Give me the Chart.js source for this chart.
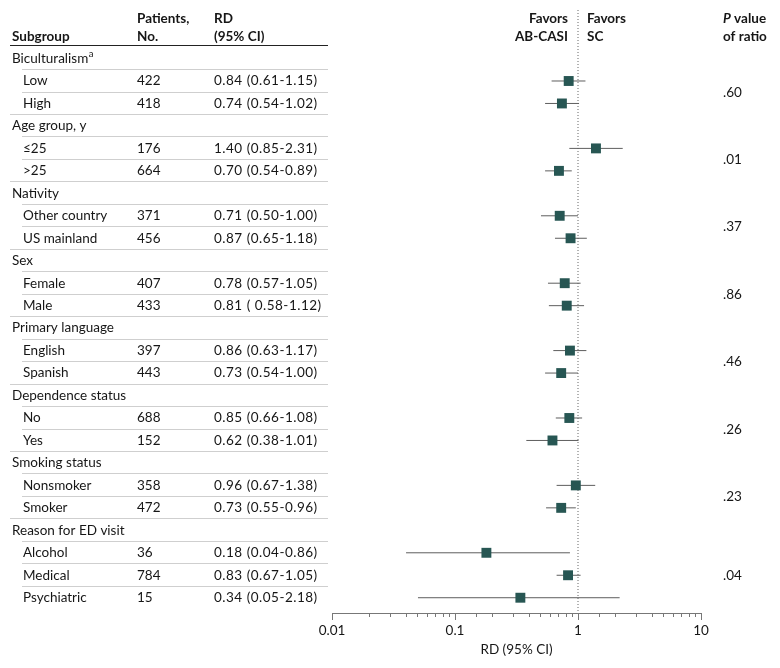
<!DOCTYPE html>
<html>
<head>
<meta charset="utf-8">
<script src="https://cdn.jsdelivr.net/npm/chart.js@4.4.1/dist/chart.umd.min.js"></script>
<style>
html,body{margin:0;padding:0;background:#fff;}
#wrap{width:780px;height:668px;position:relative;}
</style>
</head>
<body>
<div id="wrap"><canvas id="c" width="780" height="668"></canvas></div>
<script>
// ---- data ----
const groups = ['Biculturalism', 'Age group, y', 'Nativity', 'Sex', 'Primary language', 'Dependence status', 'Smoking status', 'Reason for ED visit'];
const groupNotes = ['a', '', '', '', '', '', '', ''];
const subgroups = [['Low', 'High'], ['≤25', '>25'], ['Other country', 'US mainland'], ['Female', 'Male'], ['English', 'Spanish'], ['No', 'Yes'], ['Nonsmoker', 'Smoker'], ['Alcohol', 'Medical', 'Psychiatric']];
const patients = [[422, 418], [176, 664], [371, 456], [407, 433], [397, 443], [688, 152], [358, 472], [36, 784, 15]];
const rd = [[0.84, 0.74], [1.40, 0.70], [0.71, 0.87], [0.78, 0.81], [0.86, 0.73], [0.85, 0.62], [0.96, 0.73], [0.18, 0.83, 0.34]];
const ciLow = [[0.61, 0.54], [0.85, 0.54], [0.50, 0.65], [0.57, 0.58], [0.63, 0.54], [0.66, 0.38], [0.67, 0.55], [0.04, 0.67, 0.05]];
const ciHigh = [[1.15, 1.02], [2.31, 0.89], [1.00, 1.18], [1.05, 1.12], [1.17, 1.00], [1.08, 1.01], [1.38, 0.96], [0.86, 1.05, 2.18]];
const ciLabels = [['0.84 (0.61-1.15)', '0.74 (0.54-1.02)'], ['1.40 (0.85-2.31)', '0.70 (0.54-0.89)'], ['0.71 (0.50-1.00)', '0.87 (0.65-1.18)'], ['0.78 (0.57-1.05)', '0.81 ( 0.58-1.12)'], ['0.86 (0.63-1.17)', '0.73 (0.54-1.00)'], ['0.85 (0.66-1.08)', '0.62 (0.38-1.01)'], ['0.96 (0.67-1.38)', '0.73 (0.55-0.96)'], ['0.18 (0.04-0.86)', '0.83 (0.67-1.05)', '0.34 (0.05-2.18)']];
const pValues = ['.60', '.01', '.37', '.86', '.46', '.26', '.23', '.04'];
const tickLabels = ['0.01', '0.1', '1', '10'];
const xMin = 0.01, xMax = 10, refValue = 1;

// ---- build rows ----
const rows = [];
groups.forEach((g, gi) => {
  rows.push({ type: 'group', gi });
  subgroups[gi].forEach((s, si) => rows.push({ type: 'sub', gi, si, last: si === subgroups[gi].length - 1 }));
});
rows.forEach((r, i) => r.idx = i);
const subRows = rows.filter(r => r.type === 'sub');
const yMin = -2.16, yMax = 24.68;

const MARK = '#275653', CI = '#5e5e5e', TXT = '#161616', FONT = 'Lato, "Open Sans", sans-serif';
const BODY = '13.5px ' + FONT, HEAD = 'bold 13.5px ' + FONT;

const datasets = [];
datasets.push({
  label: 'RD',
  data: subRows.map(r => ({ x: rd[r.gi][r.si], y: r.idx })),
  pointStyle: 'rect', pointRadius: 7, pointHoverRadius: 7,
  backgroundColor: MARK, borderColor: MARK, borderWidth: 0, showLine: false
});
subRows.forEach(r => {
  datasets.push({
    label: 'CI',
    data: [{ x: ciLow[r.gi][r.si], y: r.idx }, { x: ciHigh[r.gi][r.si], y: r.idx }],
    showLine: true, borderColor: CI, borderWidth: 1, pointRadius: 0
  });
});
datasets.push({
  label: 'ref',
  data: [{ x: refValue, y: yMin }, { x: refValue, y: yMax }],
  showLine: true, borderColor: '#666', borderWidth: 1, borderDash: [1, 2], pointRadius: 0
});

const isMajor = v => Math.abs(Math.log10(v) - Math.round(Math.log10(v))) < 1e-6;

const tablePlugin = {
  id: 'table',
  afterDraw(chart) {
    const ctx = chart.ctx, ys = chart.scales.y, xs = chart.scales.x;
    ctx.save();
    // major tick extension
    ctx.strokeStyle = '#777'; ctx.lineWidth = 1;
    const axY = chart.chartArea.bottom;
    xs.ticks.forEach(t => {
      if (isMajor(t.value)) {
        const px = Math.round(xs.getPixelForValue(t.value)) + 0.5;
        ctx.beginPath(); ctx.moveTo(px, axY + 3); ctx.lineTo(px, axY + 7); ctx.stroke();
      }
    });
    ctx.fillStyle = TXT;
    ctx.textBaseline = 'middle';
    // headers
    ctx.font = HEAD;
    ctx.textAlign = 'left';
    ctx.fillText('Subgroup', 12, 37);
    ctx.fillText('Patients,', 137, 19);
    ctx.fillText('No.', 137, 37);
    ctx.fillText('RD', 214, 19);
    ctx.fillText('(95% CI)', 214, 37);
    const xRef = xs.getPixelForValue(refValue);
    ctx.textAlign = 'right';
    ctx.fillText('Favors', xRef - 10, 19);
    ctx.fillText('AB-CASI', xRef - 10, 37);
    ctx.textAlign = 'left';
    ctx.fillText('Favors', xRef + 9, 19);
    ctx.fillText('SC', xRef + 9, 37);
    ctx.font = 'italic ' + HEAD;
    ctx.fillText('P', 723, 19);
    const pw = ctx.measureText('P').width;
    ctx.font = HEAD;
    ctx.fillText(' value', 723 + pw, 19);
    ctx.fillText('of ratio', 723, 37);
    // header rule
    ctx.strokeStyle = '#222'; ctx.lineWidth = 1;
    ctx.beginPath(); ctx.moveTo(10, 45.5); ctx.lineTo(328, 45.5); ctx.stroke();
    // rows
    ctx.font = BODY;
    rows.forEach((r, i) => {
      const y = ys.getPixelForValue(r.idx);
      ctx.fillStyle = TXT;
      if (r.type === 'group') {
        ctx.fillText(groups[r.gi], 12, y);
        if (groupNotes[r.gi]) {
          const w = ctx.measureText(groups[r.gi]).width;
          ctx.font = '9.5px ' + FONT;
          ctx.fillText(groupNotes[r.gi], 12 + w + 0.5, y - 4.5);
          ctx.font = BODY;
        }
      } else {
        ctx.fillText(subgroups[r.gi][r.si], 23, y);
        ctx.fillText(String(patients[r.gi][r.si]), 137, y);
        ctx.letterSpacing = '0.5px';
        ctx.fillText(ciLabels[r.gi][r.si], 214, y);
        ctx.letterSpacing = '0px';
      }
      if (i < rows.length - 1) {
        const ly = Math.round(ys.getPixelForValue(r.idx + 0.47)) + 0.5;
        const x0 = (r.type === 'sub' && r.last) ? 10 : 22;
        ctx.strokeStyle = '#cfcfcf';
        ctx.beginPath(); ctx.moveTo(x0, ly); ctx.lineTo(328, ly); ctx.stroke();
      }
    });
    // p values
    groups.forEach((g, gi) => {
      const idxs = subRows.filter(r => r.gi === gi).map(r => r.idx);
      const mid = idxs.reduce((a, b) => a + b, 0) / idxs.length;
      ctx.fillText(pValues[gi], 723, ys.getPixelForValue(mid));
    });
    ctx.restore();
  }
};

new Chart(document.getElementById('c'), {
  type: 'scatter',
  data: { datasets },
  plugins: [tablePlugin],
  options: {
    responsive: false,
    animation: false,
    layout: { padding: { left: 332, right: 79, top: 10, bottom: 0 } },
    plugins: { legend: { display: false }, tooltip: { enabled: false } },
    scales: {
      x: {
        type: 'logarithmic', min: xMin, max: xMax,
        afterFit: s => { s.height = 55; },
        border: { display: true, color: '#777', width: 1 },
        grid: { display: true, drawOnChartArea: false, drawTicks: true, tickLength: 4, color: '#777' },
        ticks: {
          autoSkip: false, maxRotation: 0, padding: 6, color: TXT,
          font: { family: FONT, size: 13.5 },
          callback: v => isMajor(v) ? tickLabels[Math.round(Math.log10(v)) + 2] : ''
        },
        title: { display: true, text: 'RD (95% CI)', color: TXT, font: { family: FONT, size: 13.5 }, padding: { top: 0, bottom: 10 } }
      },
      y: { type: 'linear', min: yMin, max: yMax, reverse: true, display: false }
    }
  }
});
</script>
</body>
</html>
